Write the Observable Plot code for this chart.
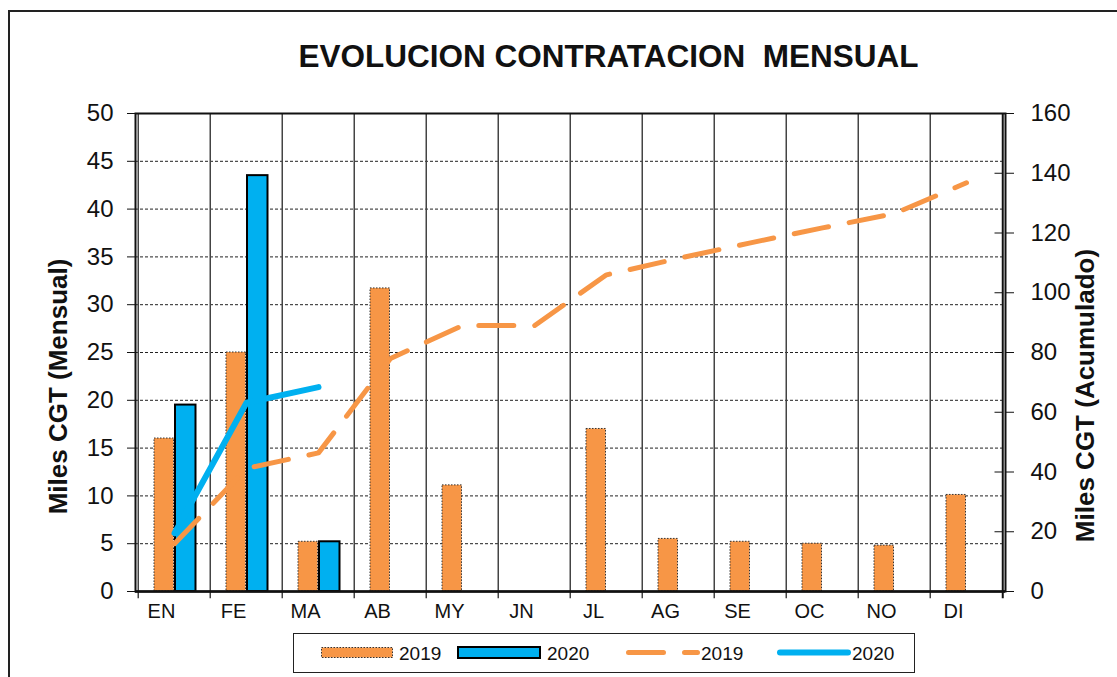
<!DOCTYPE html>
<html><head><meta charset="utf-8">
<script src="https://cdn.jsdelivr.net/npm/d3@7"></script>
<script src="https://cdn.jsdelivr.net/npm/@observablehq/plot@0.6"></script>
<style>
html,body{margin:0;padding:0;background:#fff;overflow:hidden;}
body{width:1117px;height:677px;position:relative;font-family:"Liberation Sans",Arial,sans-serif;color:#111;}
#border{position:absolute;left:8px;top:10px;width:1300px;height:900px;border:2px solid #222;pointer-events:none;}
#title{height:80px;box-sizing:border-box;padding-top:41px;padding-left:100px;text-align:center;font-weight:bold;font-size:31.5px;line-height:31px;white-space:pre;}
#chart svg{display:block}
#legend{position:relative;margin-left:293px;margin-top:5px;width:622px;height:40px;border:1.5px solid #222;box-sizing:border-box;font-size:19px;}
.sw{position:absolute}
.lt{position:absolute;top:50%;transform:translateY(-50%);line-height:19px}
</style></head><body>
<div id="border"></div>
<div id="title">EVOLUCION CONTRATACION  MENSUAL</div>
<div id="chart"></div>
<div id="legend">
 <svg class="sw" style="left:27px;top:13px" width="72" height="11"><rect x="0.5" y="0.5" width="71" height="10" fill="#F79646" stroke="#333" stroke-dasharray="1.5,1.5"/></svg>
 <span class="lt" style="left:105px">2019</span>
 <svg class="sw" style="left:163px;top:12px" width="84" height="13"><rect x="1" y="1" width="82" height="11" fill="#00B0F0" stroke="#000" stroke-width="2"/></svg>
 <span class="lt" style="left:253px">2020</span>
 <svg class="sw" style="left:330px;top:13px" width="78" height="11"><line x1="4.5" y1="5.5" x2="73.5" y2="5.5" stroke="#F79646" stroke-width="5" stroke-dasharray="35,21" stroke-linecap="round"/></svg>
 <span class="lt" style="left:407px">2019</span>
 <svg class="sw" style="left:480px;top:12px" width="80" height="13"><line x1="6" y1="6.5" x2="74" y2="6.5" stroke="#00B0F0" stroke-width="6" stroke-linecap="round"/></svg>
 <span class="lt" style="left:558px">2020</span>
</div>
<script>
const meses = ["EN","FE","MA","AB","MY","JN","JL","AG","SE","OC","NO","DI"];
const mensual2019 = [16.0, 25.0, 5.2, 31.7, 11.1, 0, 17.0, 5.5, 5.2, 5.0, 4.8, 10.1];
const mensual2020 = [19.5, 43.5, 5.2];
const acumulado2019 = [16.0, 41.2, 46.4, 78.0, 89.0, 89.0, 106.0, 111.5, 116.7, 121.7, 126.5, 136.8];
const acumulado2020 = [19.5, 63.2, 68.4];
const leftTicks = [0, 5, 10, 15, 20, 25, 30, 35, 40, 45, 50];
const rightTicks = [0, 20, 40, 60, 80, 100, 120, 140, 160];
const gridY = [5, 10, 15, 20, 25, 30, 35, 40, 45];

const W = 1117, H = 548, ML = 135, MR = 112, MT = 33, MB = 37;
const bw = (W - ML - MR) / meses.length;
const k = 50 / 160;

const rows = (vals) => vals.map((v, i) => ({mes: meses[i], valor: v}));
const d2019 = rows(mensual2019), d2020 = rows(mensual2020);
const a2019 = rows(acumulado2019), a2020 = rows(acumulado2020);

const chart = Plot.plot({
  width: W, height: H,
  marginLeft: ML, marginRight: MR, marginTop: MT, marginBottom: MB,
  style: {fontFamily: "Liberation Sans, Arial, sans-serif", color: "#111", background: "transparent", overflow: "visible"},
  x: {domain: meses, padding: 0, axis: null},
  y: {domain: [0, 50], axis: null},
  marks: [
    Plot.ruleY(gridY, {stroke: "#222", strokeWidth: 1, strokeDasharray: "3,2"}),
    Plot.ruleX(meses, {x: d => d, dx: -bw / 2, y1: -0.75, y2: 50, stroke: "#444", strokeWidth: 1.5}),
    Plot.ruleX(["DI"], {x: d => d, dx: bw / 2, y1: -0.75, y2: 50, stroke: "#111", strokeWidth: 2}),
    Plot.barY(d2019, {x: "mes", y: "valor", fill: "#F79646", stroke: "#333", strokeWidth: 1, strokeDasharray: "1.5,1.5", insetLeft: 16, insetRight: 36.5}),
    Plot.barY(d2020, {x: "mes", y: "valor", fill: "#00B0F0", stroke: "#000", strokeWidth: 2, insetLeft: 37, insetRight: 14.5}),
    Plot.line(a2019, {x: "mes", y: d => d.valor * k, stroke: "#F79646", strokeWidth: 5, strokeDasharray: "35,21", strokeLinecap: "round"}),
    Plot.line(a2020, {x: "mes", y: d => d.valor * k, stroke: "#00B0F0", strokeWidth: 6, strokeLinecap: "round", strokeLinejoin: "round"}),
    Plot.frame({stroke: "#111", strokeWidth: 2}),
    Plot.ruleY([0], {stroke: "#111", strokeWidth: 2.5}),
    Plot.axisY(leftTicks, {anchor: "left", tickSize: 8, tickPadding: 14, fontSize: 24, stroke: "#111", label: null}),
    Plot.axisY(rightTicks.map(v => v * k), {anchor: "right", tickSize: 8, tickPadding: 17, fontSize: 24, stroke: "#111", tickFormat: d => String(Math.round(d / k)), label: null}),
    Plot.tickY(rightTicks.map(v => v * k), {y: d => d, x: () => "DI", insetLeft: bw - 8, stroke: "#111"}),
    Plot.axisX(meses, {anchor: "bottom", tickSize: 0, tickPadding: 12, fontSize: 20, dx: -13, label: null}),
    Plot.text(["Miles CGT (Mensual)"], {frameAnchor: "left", textAnchor: "middle", dx: -77, dy: 34, rotate: -90, fontSize: 26, fontWeight: "bold", fill: "#111"}),
    Plot.text(["Miles CGT (Acumulado)"], {frameAnchor: "right", textAnchor: "middle", dx: 80, dy: 43, rotate: -90, fontSize: 26, fontWeight: "bold", fill: "#111"})
  ]
});
document.getElementById("chart").appendChild(chart);
</script>
</body></html>
